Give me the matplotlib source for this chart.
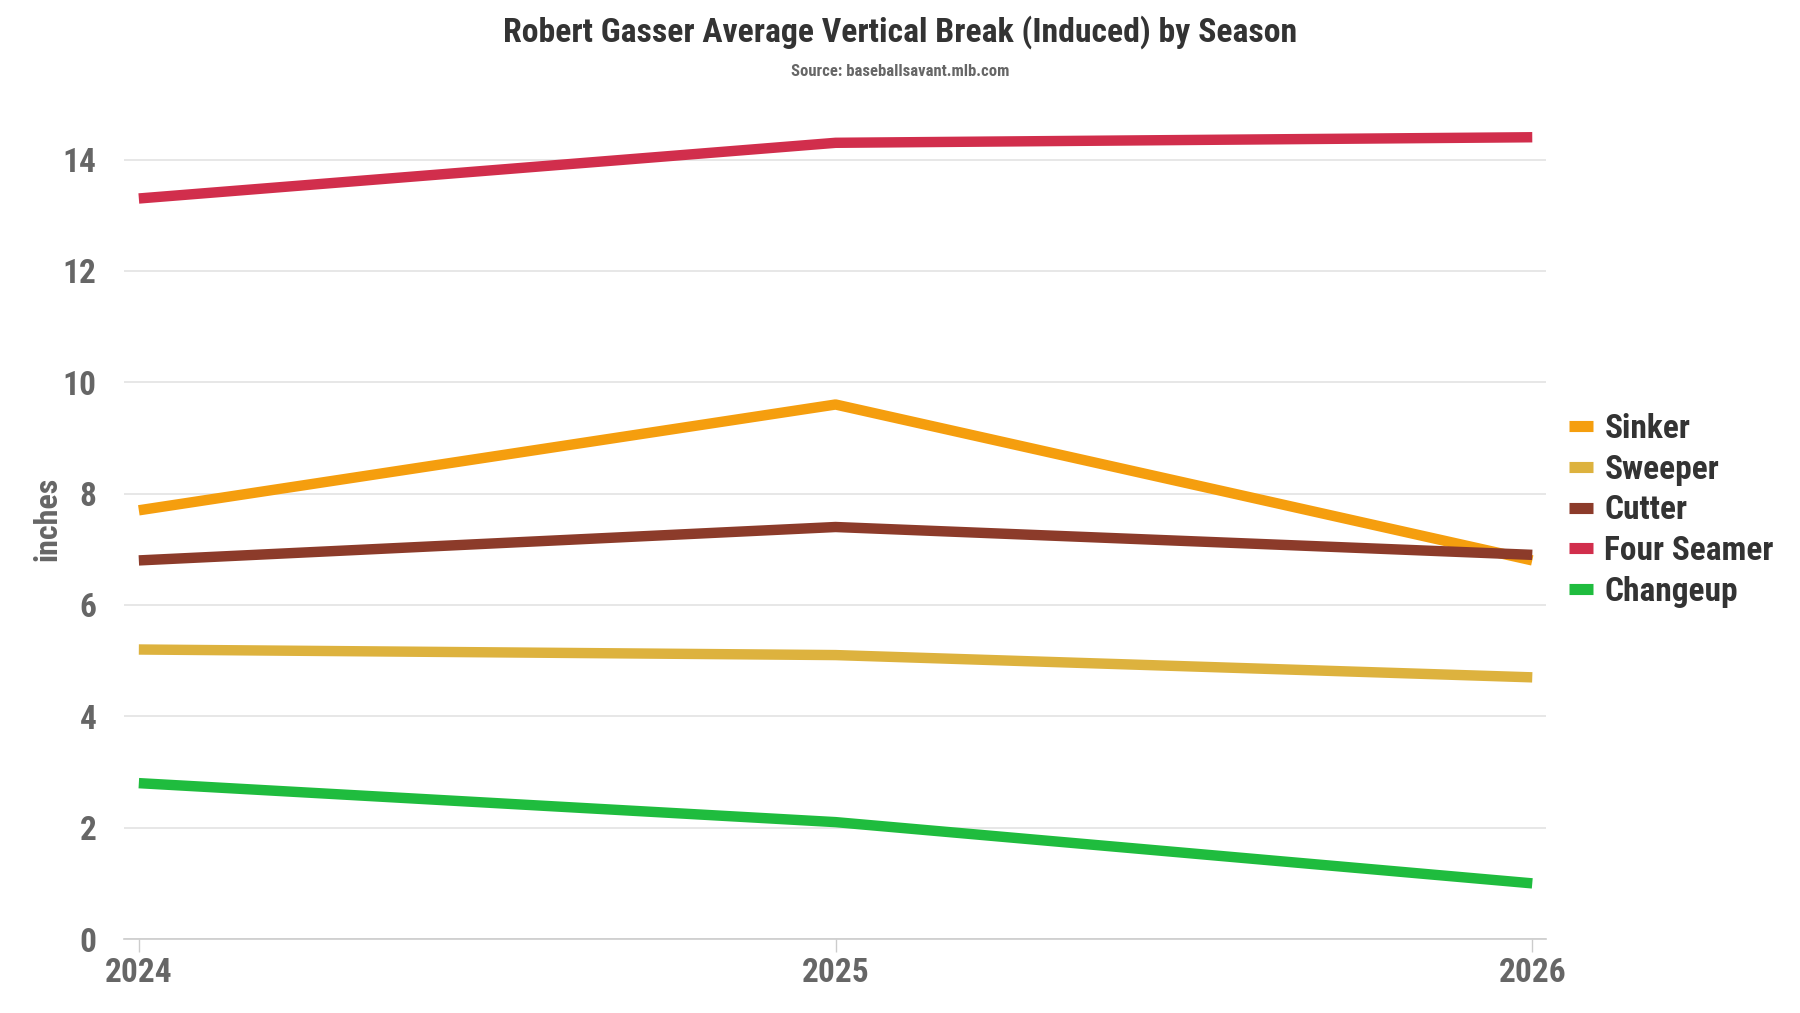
#!/usr/bin/env python3
# -*- coding: utf-8 -*-
import matplotlib

matplotlib.use("Agg")

import matplotlib.pyplot as plt

IMAGE_DPI = 100.0

seasons = [2024, 2025, 2026]
pitch_names = ["Sinker", "Sweeper", "Cutter", "Four Seamer", "Changeup"]
sinker = [7.7, 9.6, 6.8]
sweeper = [5.2, 5.1, 4.7]
cutter = [6.8, 7.4, 6.9]
four_seamer = [13.3, 14.3, 14.4]
changeup = [2.8, 2.1, 1.0]
y_ticks = [0, 2, 4, 6, 8, 10, 12, 14]

colors = {
    "Sinker": "#F59E0E",
    "Sweeper": "#DDB23E",
    "Cutter": "#8C3B2A",
    "Four Seamer": "#D12E4C",
    "Changeup": "#1FBC3E",
}

plt.rcParams["font.family"] = [
    "Roboto Condensed",
    "Liberation Sans Narrow",
    "Roboto",
    "DejaVu Sans",
]
plt.rcParams["font.weight"] = "bold"

fig = plt.figure(facecolor="white")
fig.set_size_inches(1800 / IMAGE_DPI, 1013 / IMAGE_DPI)
ax = fig.add_axes([0.069, 0.073, 0.79, 0.83])

series = {
    "Sinker": sinker,
    "Sweeper": sweeper,
    "Cutter": cutter,
    "Four Seamer": four_seamer,
    "Changeup": changeup,
}
for name in pitch_names:
    ax.plot(
        seasons,
        series[name],
        color=colors[name],
        linewidth=7.5,
        solid_capstyle="butt",
        solid_joinstyle="round",
        label=name,
        zorder=3,
    )

ax.set_xlim(2023.979, 2026.02)
ax.set_ylim(0, 15.1)
ax.set_xticks(seasons)
ax.set_xticklabels([str(s) for s in seasons])
ax.set_yticks(y_ticks)

ax.tick_params(axis="x", colors="#666666", labelsize=24, length=9, width=1,
               pad=4)
ax.tick_params(axis="x", color="#cccccc")
ax.tick_params(axis="y", colors="#666666", labelsize=24, length=0, pad=20)

ax.grid(axis="y", color="#e3e3e3", linewidth=1.2, zorder=0)
ax.set_axisbelow(True)

for side in ["top", "right", "left"]:
    ax.spines[side].set_visible(False)
ax.spines["bottom"].set_color("#cccccc")
ax.spines["bottom"].set_linewidth(1.2)

ax.set_ylabel("inches", fontsize=23, color="#666666", labelpad=0,
              fontweight="bold")

fig.text(0.5, 0.968, "Robert Gasser Average Vertical Break (Induced) by Season",
         ha="center", va="center", fontsize=24.3, color="#333333",
         fontweight="bold")
fig.text(0.5, 0.929, "Source: baseballsavant.mlb.com", ha="center",
         va="center", fontsize=12, color="#666666", fontweight="bold")

leg = ax.legend(
    loc="center left",
    bbox_to_anchor=(1.007, 0.51),
    frameon=False,
    fontsize=24,
    handlelength=0.7,
    handletextpad=0.35,
    labelspacing=0.26,
    borderaxespad=0,
)
for text in leg.get_texts():
    text.set_color("#333333")
for line in leg.get_lines():
    line.set_linewidth(8)

fig.savefig("out.png", dpi=IMAGE_DPI)
